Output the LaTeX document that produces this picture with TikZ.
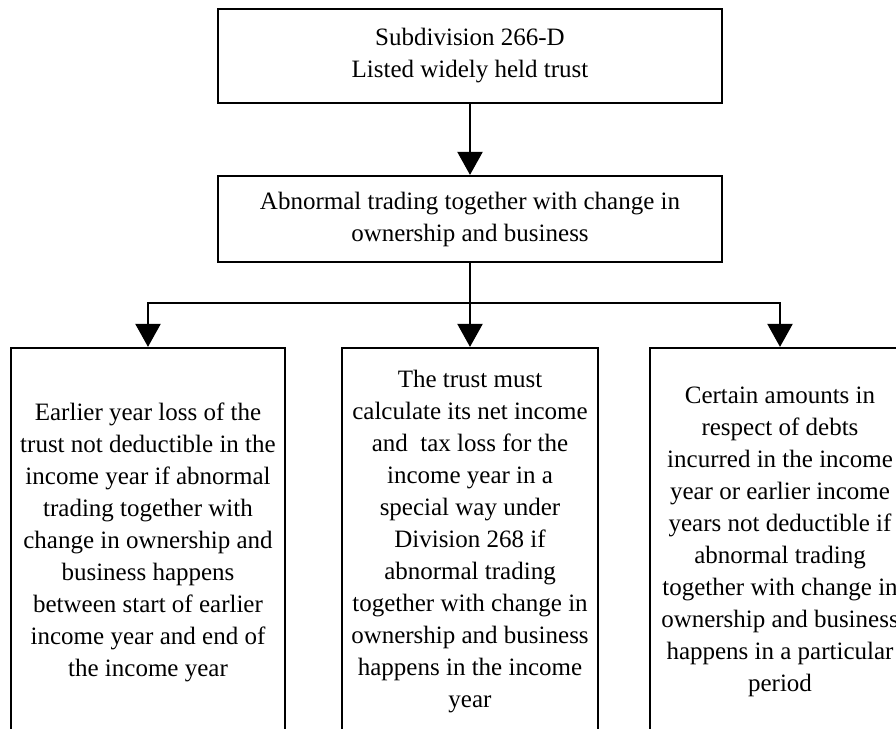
\documentclass[tikz,border=0pt]{standalone}
\usepackage{fontspec}
\setmainfont{Liberation Serif}
\usetikzlibrary{arrows.meta}

\tikzset{
  box/.style={draw=black, line width=2.2pt, fill=white, inner sep=0pt,
    align=center, font=\fontsize{25}{32}\selectfont},
  arr/.style={draw=black, line width=2.2pt,
    -{Triangle[length=23pt,width=25pt]}},
  link/.style={draw=black, line width=2.2pt}
}

\begin{document}
\begin{tikzpicture}[x=1pt, y=-1pt]
  \clip (0,0) rectangle (896,728);
  \fill[white] (0,0) rectangle (896,728);

  % top level: the subdivision
  \node[box, minimum width=504pt, minimum height=94pt] (top) at (470,56)
    {Subdivision 266-D\\Listed widely held trust};

  % the triggering event
  \node[box, minimum width=504pt, minimum height=86pt] (mid) at (470,219)
    {Abnormal trading together with change in\\ownership and business};

  % the three consequences
  \node[box, minimum width=274pt, minimum height=388pt] (b1) at (148,542)
    {Earlier year loss of the\\trust not deductible in the\\income year if abnormal\\trading together with\\change in ownership and\\business happens\\between start of earlier\\income year and end of\\the income year};

  \node[box, minimum width=256pt, minimum height=388pt] (b2) at (470,542)
    {The trust must\\calculate its net income\\and\ \ tax loss for the\\income year in a\\special way under\\Division 268 if\\abnormal trading\\together with change in\\ownership and business\\happens in the income\\year};

  \node[box, minimum width=260pt, minimum height=388pt] (b3) at (780,542)
    {Certain amounts in\\respect of debts\\incurred in the income\\year or earlier income\\years not deductible if\\abnormal trading\\together with change in\\ownership and business\\happens in a particular\\period};

  % connectors
  \coordinate (split) at (470,303);
  \draw[arr] (top.south) -- (mid.north);
  \draw[arr] (mid.south) -- (b2.north);
  \draw[arr] (split) -| (b1.north);
  \draw[arr] (split) -| (b3.north);
\end{tikzpicture}
\end{document}
